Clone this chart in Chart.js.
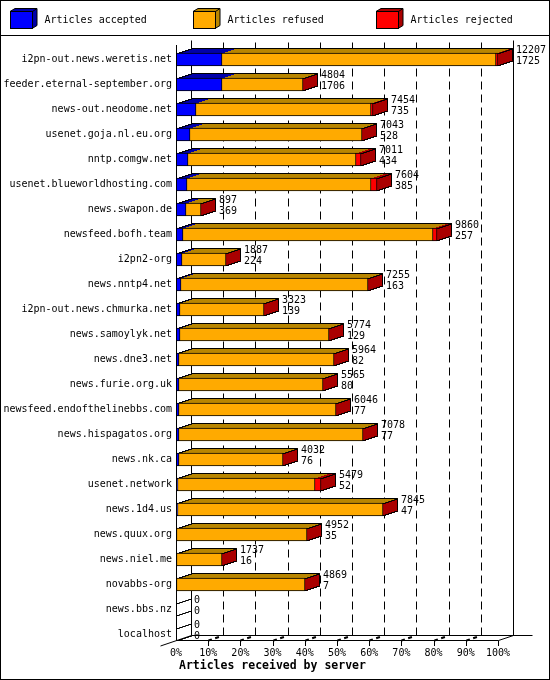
<!DOCTYPE html>
<html><head><meta charset="utf-8">
<style>html,body{margin:0;padding:0;background:#fff}canvas{display:block}</style>
<script src="https://cdn.jsdelivr.net/npm/chart.js@4"></script></head>
<body><canvas id="c" width="550" height="680"></canvas>
<script>
const categories=["i2pn-out.news.weretis.net","feeder.eternal-september.org","news-out.neodome.net","usenet.goja.nl.eu.org","nntp.comgw.net","usenet.blueworldhosting.com","news.swapon.de","newsfeed.bofh.team","i2pn2-org","news.nntp4.net","i2pn-out.news.chmurka.net","news.samoylyk.net","news.dne3.net","news.furie.org.uk","newsfeed.endofthelinebbs.com","news.hispagatos.org","news.nk.ca","usenet.network","news.1d4.us","news.quux.org","news.niel.me","novabbs-org","news.bbs.nz","localhost"];
const acceptedPct=[14.34,14.34,6.26,4.40,3.67,3.36,3.16,2.12,1.92,1.60,1.29,1.29,0.88,0.88,0.88,0.88,0.88,0.57,0.57,0.41,0.41,0.36,0,0];
const refusedPct=[85.05,25.15,54.35,53.41,52.18,57.25,4.45,77.75,13.56,57.97,26.09,46.17,48.14,44.82,48.76,57.25,32.4,42.55,63.77,40.32,13.93,39.75,0,0];
const rejectedPct=[0.61,0,0.52,0,1.66,1.86,0,1.24,0,0.1,0,0,0,0,0,0,0,1.86,0,0,0,0,0,0];
const refusedLabels=[12207,4804,7454,7043,7011,7604,897,9860,1887,7255,3323,5774,5964,5565,6046,7078,4032,5479,7845,4952,1737,4869,0,0];
const acceptedLabels=[1725,1706,735,528,434,385,369,257,224,163,139,129,82,80,77,77,76,52,47,35,16,7,0,0];
const seriesNames=["Articles accepted","Articles refused","Articles rejected"];
const frontColors=["#0000ff","#ffaa00","#ff0000"];
const darkColors=["#0000aa","#b98600","#aa0000"];
const axisTitle="Articles received by server";
const FONT='"DejaVu Sans Mono"';
const DX=15,DY=5;

function stair(ctx,x,y,dx,dy,rev){
  const sx=dx/dy;
  if(!rev){for(let i=0;i<dy;i++){ctx.lineTo(x+Math.round(sx*(i+1)),y-i);ctx.lineTo(x+Math.round(sx*(i+1)),y-i-1);}}
  else{for(let i=dy-1;i>=0;i--){ctx.lineTo(x+Math.round(sx*(i+1)),y-i-1);ctx.lineTo(x+Math.round(sx*(i+1)),y-i);}ctx.lineTo(x,y);}
}
function line(ctx,x0,y0,x1,y1){ctx.beginPath();ctx.moveTo(x0,y0);ctx.lineTo(x1,y1);ctx.stroke();}

const depth={
  id:'depth',
  afterDatasetsUpdate(chart){
    chart.data.datasets.forEach((d,k)=>chart.getDatasetMeta(k).data.forEach(el=>{el.x=Math.round(el.x);el.base=Math.round(el.base);}));
  },
  beforeDatasetsDraw(chart){
    const ctx=chart.ctx,xs=chart.scales.x,a=chart.chartArea;
    const left=a.left+.5,right=a.right+.5,floorF=640.5,floorB=635.5,topB=40.5;
    ctx.save();ctx.strokeStyle='#000';ctx.lineWidth=1;ctx.setLineDash([]);
    line(ctx,left+DX,topB,left+DX,floorB);
    line(ctx,right+DX,topB,right+DX,floorB);
    line(ctx,left+DX,floorB,right+DX+19,floorB);
    line(ctx,left,floorF,right,floorF);
    line(ctx,left-16,646,left+DX,floorB);
    line(ctx,right,floorF,right+DX,floorB);
    xs.ticks.forEach((t,i)=>{
      const x=Math.round(xs.getPixelForTick(i))+.5;
      if(i>0&&i<xs.ticks.length-1){
        ctx.setLineDash([8,5]);
        line(ctx,x+DX,floorB,x+DX,topB);
        ctx.setLineDash([3.5,3.5,4,30]);
        ctx.lineWidth=2;
        line(ctx,x,floorF,x+DX,floorB);
        ctx.lineWidth=1;ctx.setLineDash([]);
      }
      if(i>0)line(ctx,x,floorF,x,646);
    });
    ctx.setLineDash([]);
    const n=categories.length;
    for(let r=0;r<n;r++){
      const els=chart.data.datasets.map((d,k)=>chart.getDatasetMeta(k).data[r]);
      const h=els[0].height/2,y=els[0].y;
      const top=Math.round(y-h),bot=Math.round(y+h);
      const start=Math.round(Math.min(els[0].base,els[0].x));
      const ends=els.map(e=>Math.round(e.x));
      let x0=start;
      ends.forEach((x1,k)=>{
        if(x1>x0){
          ctx.fillStyle=darkColors[k];
          ctx.beginPath();ctx.moveTo(x0,top);stair(ctx,x0,top,DX,DY);
          ctx.lineTo(x1+DX,top-DY);stair(ctx,x1,top,DX,DY,true);ctx.closePath();ctx.fill();
        }
        x0=Math.max(x0,x1);
      });
      const end=x0;
      if(end>start){
        ctx.fillStyle=darkColors[2];
        ctx.beginPath();ctx.moveTo(end,top);stair(ctx,end,top,DX,DY);
        ctx.lineTo(end+DX,bot-DY);stair(ctx,end,bot,DX,DY,true);ctx.closePath();ctx.fill();
      }
      ctx.translate(.5,.5);
      ctx.beginPath();
      if(end>start){
        ctx.moveTo(start,top);stair(ctx,start,top,DX,DY);
        ctx.lineTo(end+DX-1,top-DY);ctx.lineTo(end+DX-1,bot-DY-1);
        ctx.moveTo(end-1,top);stair(ctx,end-1,top,DX,DY);
        ctx.moveTo(end-1,bot-1);stair(ctx,end-1,bot-1,DX,DY);
      }else{
        ctx.moveTo(start,top);stair(ctx,start,top,DX,DY);
        ctx.moveTo(start,bot-1);stair(ctx,start,bot-1,DX,DY);
      }
      ctx.stroke();
      ctx.translate(-.5,-.5);
    }
    ctx.restore();
  },
  afterDatasetsDraw(chart){
    const ctx=chart.ctx,a=chart.chartArea;
    ctx.save();ctx.strokeStyle='#000';ctx.lineWidth=1;
    line(ctx,a.left+.5,45,a.left+.5,641);
    ctx.fillStyle='#000';ctx.font='10px '+FONT;ctx.textBaseline='middle';ctx.textAlign='left';
    categories.forEach((c,r)=>{
      const el=chart.getDatasetMeta(2).data[r];
      const x=Math.round(el.x)+DX+3,y=el.y;
      ctx.fillText(String(refusedLabels[r]),x,y-9);
      ctx.fillText(String(acceptedLabels[r]),x,y+2);
    });
    seriesNames.forEach((name,k)=>{
      const x=10+183*k;
      ctx.fillStyle=darkColors[k];
      ctx.beginPath();ctx.moveTo(x,11.5);ctx.lineTo(x+5,8.5);ctx.lineTo(x+27,8.5);ctx.lineTo(x+27,25.5);ctx.lineTo(x+22,28.5);ctx.lineTo(x+22,11.5);ctx.closePath();ctx.fill();ctx.stroke();
      ctx.fillStyle=frontColors[k];
      ctx.fillRect(x+.5,11.5,22,17);ctx.strokeRect(x+.5,11.5,22,17);
      line(ctx,x+22.5,11.5,x+27,8.5);
      ctx.fillStyle='#000';
      ctx.fillText(name,x+34.5,20);
    });
    ctx.font='bold 11.5px '+FONT;
    ctx.fillText(axisTitle,179,666);
    ctx.lineWidth=1;
    line(ctx,0,35.5,550,35.5);
    ctx.strokeRect(.5,.5,549,679);
    ctx.restore();
  }
};

new Chart(document.getElementById('c'),{
  type:'bar',
  data:{labels:categories,datasets:[
    {label:seriesNames[0],data:acceptedPct,backgroundColor:frontColors[0],borderColor:'#000',borderWidth:1,borderSkipped:false},
    {label:seriesNames[1],data:refusedPct,backgroundColor:frontColors[1],borderColor:'#000',borderWidth:1,borderSkipped:'left'},
    {label:seriesNames[2],data:rejectedPct,backgroundColor:frontColors[2],borderColor:'#000',borderWidth:1,borderSkipped:'left'}
  ]},
  options:{
    indexAxis:'y',responsive:false,animation:false,devicePixelRatio:1,
    layout:{padding:{left:0,right:52,top:47,bottom:0}},
    datasets:{bar:{barThickness:13}},
    plugins:{legend:{display:false},tooltip:{enabled:false}},
    scales:{
      x:{stacked:true,min:0,max:100,grid:{display:false,drawTicks:false},border:{display:false},
        afterFit(s){s.height=33;},
        ticks:{stepSize:10,padding:0,maxRotation:0,autoSkip:false,color:'#000',font:{family:FONT,size:10},callback:v=>v+'%'}},
      y:{stacked:true,grid:{display:false,drawTicks:false},border:{display:false},
        afterFit(s){s.width=176;},
        ticks:{padding:4,autoSkip:false,color:'#000',font:{family:FONT,size:10}}}
    }
  },
  plugins:[depth]
});
</script></body></html>
